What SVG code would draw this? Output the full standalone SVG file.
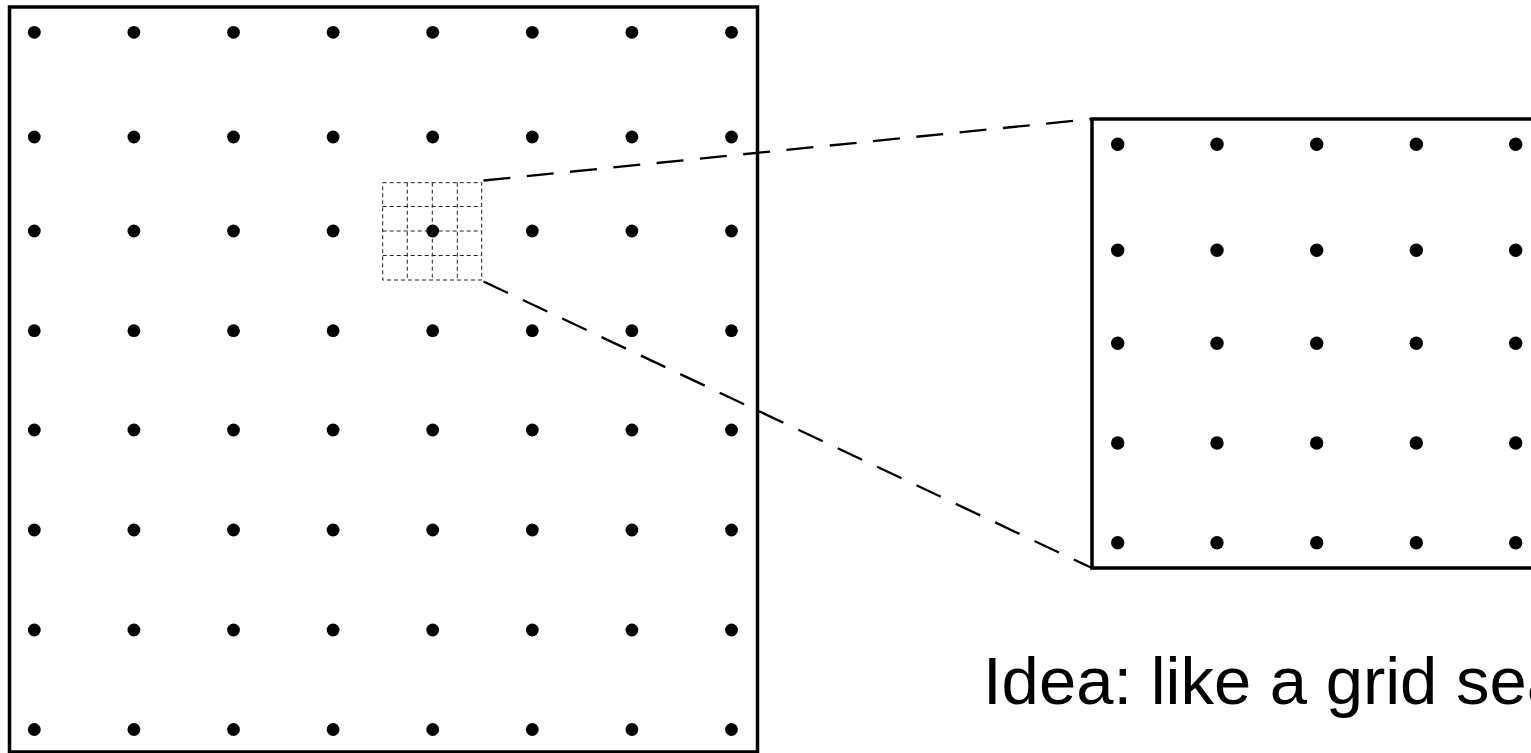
<svg xmlns="http://www.w3.org/2000/svg" width="1531" height="753" viewBox="0 0 1531 753">
<style>
.box{fill:none;stroke:#000;stroke-width:3.5}
.dot{fill:#000}
.zoom{stroke:#000;stroke-width:2.3;stroke-dasharray:27 16.5;fill:none}
.cell{fill:none;stroke:#222;stroke-width:1;stroke-dasharray:4 3}
.label{font-family:"Liberation Sans",Arial,sans-serif;font-size:67px;fill:#000}
</style>
<rect width="1531" height="753" fill="#fff"/>
<g id="overview">
<rect class="box" x="9.5" y="7" width="748" height="745"/>
<g class="dot">
<circle cx="34.3" cy="32.3" r="6.4"/><circle cx="133.9" cy="32.3" r="6.4"/><circle cx="233.5" cy="32.3" r="6.4"/><circle cx="333.1" cy="32.3" r="6.4"/><circle cx="432.7" cy="32.3" r="6.4"/><circle cx="532.3" cy="32.3" r="6.4"/><circle cx="631.9" cy="32.3" r="6.4"/><circle cx="731.5" cy="32.3" r="6.4"/>
<circle cx="34.3" cy="137" r="6.4"/><circle cx="133.9" cy="137" r="6.4"/><circle cx="233.5" cy="137" r="6.4"/><circle cx="333.1" cy="137" r="6.4"/><circle cx="432.7" cy="137" r="6.4"/><circle cx="532.3" cy="137" r="6.4"/><circle cx="631.9" cy="137" r="6.4"/><circle cx="731.5" cy="137" r="6.4"/>
<circle cx="34.3" cy="231" r="6.4"/><circle cx="133.9" cy="231" r="6.4"/><circle cx="233.5" cy="231" r="6.4"/><circle cx="333.1" cy="231" r="6.4"/><circle cx="432.7" cy="231" r="6.4"/><circle cx="532.3" cy="231" r="6.4"/><circle cx="631.9" cy="231" r="6.4"/><circle cx="731.5" cy="231" r="6.4"/>
<circle cx="34.3" cy="330.7" r="6.4"/><circle cx="133.9" cy="330.7" r="6.4"/><circle cx="233.5" cy="330.7" r="6.4"/><circle cx="333.1" cy="330.7" r="6.4"/><circle cx="432.7" cy="330.7" r="6.4"/><circle cx="532.3" cy="330.7" r="6.4"/><circle cx="631.9" cy="330.7" r="6.4"/><circle cx="731.5" cy="330.7" r="6.4"/>
<circle cx="34.3" cy="430" r="6.4"/><circle cx="133.9" cy="430" r="6.4"/><circle cx="233.5" cy="430" r="6.4"/><circle cx="333.1" cy="430" r="6.4"/><circle cx="432.7" cy="430" r="6.4"/><circle cx="532.3" cy="430" r="6.4"/><circle cx="631.9" cy="430" r="6.4"/><circle cx="731.5" cy="430" r="6.4"/>
<circle cx="34.3" cy="530" r="6.4"/><circle cx="133.9" cy="530" r="6.4"/><circle cx="233.5" cy="530" r="6.4"/><circle cx="333.1" cy="530" r="6.4"/><circle cx="432.7" cy="530" r="6.4"/><circle cx="532.3" cy="530" r="6.4"/><circle cx="631.9" cy="530" r="6.4"/><circle cx="731.5" cy="530" r="6.4"/>
<circle cx="34.3" cy="630" r="6.4"/><circle cx="133.9" cy="630" r="6.4"/><circle cx="233.5" cy="630" r="6.4"/><circle cx="333.1" cy="630" r="6.4"/><circle cx="432.7" cy="630" r="6.4"/><circle cx="532.3" cy="630" r="6.4"/><circle cx="631.9" cy="630" r="6.4"/><circle cx="731.5" cy="630" r="6.4"/>
<circle cx="34.3" cy="729.5" r="6.4"/><circle cx="133.9" cy="729.5" r="6.4"/><circle cx="233.5" cy="729.5" r="6.4"/><circle cx="333.1" cy="729.5" r="6.4"/><circle cx="432.7" cy="729.5" r="6.4"/><circle cx="532.3" cy="729.5" r="6.4"/><circle cx="631.9" cy="729.5" r="6.4"/><circle cx="731.5" cy="729.5" r="6.4"/>
</g>
</g>
<g id="zoom-window">
<rect class="cell" x="382.7" y="182.7" width="99" height="97.3"/>
<line class="cell" x1="407.3" y1="182.7" x2="407.3" y2="280"/>
<line class="cell" x1="432.3" y1="182.7" x2="432.3" y2="280"/>
<line class="cell" x1="457.3" y1="182.7" x2="457.3" y2="280"/>
<line class="cell" x1="382.7" y1="206.5" x2="481.7" y2="206.5"/>
<line class="cell" x1="382.7" y1="231" x2="481.7" y2="231"/>
<line class="cell" x1="382.7" y1="255.5" x2="481.7" y2="255.5"/>
</g>
<g id="connectors">
<line class="zoom" x1="483.5" y1="180.5" x2="1092" y2="119"/>
<line class="zoom" x1="483.5" y1="281.5" x2="1092" y2="568"/>
</g>
<g id="detail">
<rect class="box" x="1092" y="119" width="460" height="449"/>
<g class="dot">
<circle cx="1117.7" cy="144.3" r="6.7"/><circle cx="1217" cy="144.3" r="6.7"/><circle cx="1316.7" cy="144.3" r="6.7"/><circle cx="1416.3" cy="144.3" r="6.7"/><circle cx="1515.7" cy="144.3" r="6.7"/>
<circle cx="1117.7" cy="250.3" r="6.7"/><circle cx="1217" cy="250.3" r="6.7"/><circle cx="1316.7" cy="250.3" r="6.7"/><circle cx="1416.3" cy="250.3" r="6.7"/><circle cx="1515.7" cy="250.3" r="6.7"/>
<circle cx="1117.7" cy="343.3" r="6.7"/><circle cx="1217" cy="343.3" r="6.7"/><circle cx="1316.7" cy="343.3" r="6.7"/><circle cx="1416.3" cy="343.3" r="6.7"/><circle cx="1515.7" cy="343.3" r="6.7"/>
<circle cx="1117.7" cy="443" r="6.7"/><circle cx="1217" cy="443" r="6.7"/><circle cx="1316.7" cy="443" r="6.7"/><circle cx="1416.3" cy="443" r="6.7"/><circle cx="1515.7" cy="443" r="6.7"/>
<circle cx="1117.7" cy="542.7" r="6.7"/><circle cx="1217" cy="542.7" r="6.7"/><circle cx="1316.7" cy="542.7" r="6.7"/><circle cx="1416.3" cy="542.7" r="6.7"/><circle cx="1515.7" cy="542.7" r="6.7"/>
</g>
</g>
<g id="caption">
<text class="label" x="983" y="704">Idea: like a grid sea</text>
</g>
</svg>
